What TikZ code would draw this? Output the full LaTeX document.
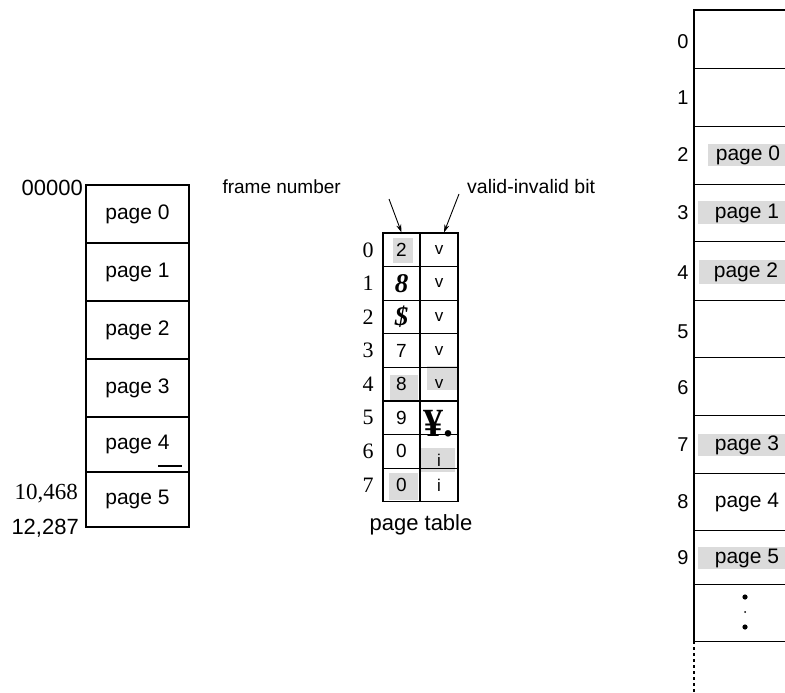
\documentclass[tikz,border=0pt]{standalone}
\usepackage{fontspec}
\setmainfont{Liberation Serif}
\setsansfont{Liberation Sans}
\usetikzlibrary{arrows.meta}
\newcommand\fz[1]{\fontsize{#1}{#1}\selectfont}
\begin{document}
\begin{tikzpicture}[x=1pt,y=-1pt,
  box/.style={draw, line width=1.2pt, inner sep=0pt, minimum width=103pt, font=\sffamily\fz{21}},
  shd/.style={fill=black!14},
  lbl/.style={inner sep=0pt, font=\sffamily\fz{21}},
  slbl/.style={inner sep=0pt, font=\rmfamily\fz{22}},
  ptc/.style={draw, line width=1.1pt, inner sep=0pt, minimum height=33.6pt},
  ptl/.style={ptc, minimum width=37pt, font=\sffamily\fz{19}},
  ptr/.style={ptc, minimum width=38pt, font=\sffamily\fz{17}},
  mcell/.style={inner sep=0pt, minimum width=91pt, anchor=north west},
  mline/.style={line width=1.2pt},
  arr/.style={-{Stealth[length=8pt,width=5pt]}, line width=0.9pt}
]
\useasboundingbox (0,0) rectangle (785,693);

% ---------- logical memory ----------
\node[box, minimum height=58pt] (p0) at (137.5,214) {page 0};
\node[box, minimum height=58pt] (p1) at (137.5,272) {page 1};
\node[box, minimum height=58pt] (p2) at (137.5,330) {page 2};
\node[box, minimum height=58pt] (p3) at (137.5,388) {page 3};
\node[box, minimum height=55pt] (p4) at (137.5,444.5) {page 4};
\node[box, minimum height=55pt] (p5) at (137.5,499.5) {page 5};
\draw[mline] (158,466) -- (182,466);
\node[lbl, anchor=east, font=\sffamily\fz{22}] (a0) at (83,188) {00000};
\node[slbl, anchor=east, font=\rmfamily\fz{23}] (a1) at (78,494) {10,468};
\node[lbl, anchor=east, font=\sffamily\fz{22}] (a2) at (79,528) {12,287};

% ---------- page table ----------
\fill[shd] (393,238) rectangle (413,263);
\fill[shd] (390,375) rectangle (418,402);
\fill[shd] (427,366) rectangle (457,390);
\fill[shd] (420,448) rectangle (455,472);
\fill[shd] (389,473) rectangle (418,500);

\node[ptl] (l0) at (401.5,249.8) {2};
\node[ptl, font=\rmfamily\bfseries\itshape\fz{27}] (l1) at (401.5,283.4) {8};
\node[ptl, font=\rmfamily\bfseries\itshape\fz{27}] (l2) at (401.5,317.0) {\$};
\node[ptl] (l3) at (401.5,350.6) {7};
\node[ptl] (l4) at (401.5,384.2) {8};
\node[ptl] (l5) at (401.5,417.8) {9};
\node[ptl] (l6) at (401.5,451.4) {0};
\node[ptl] (l7) at (401.5,485.0) {0};

\node[ptr] (r0) at (439,249.8) {v};
\node[ptr] (r1) at (439,283.4) {v};
\node[ptr] (r2) at (439,317.0) {v};
\node[ptr] (r3) at (439,350.6) {v};
\node[ptr] (r4) at (439,384.2) {v};
\node[ptr] (r5) at (439,417.8) {};
\node[ptr] (r6) at (439,451.4) {};
\node[inner sep=0pt, font=\sffamily\fz{17}] (i6) at (439,460) {i};
\node[ptr] (r7) at (439,485.0) {i};
\node[inner sep=0pt, font=\rmfamily\bfseries\fz{40}] (yen) at (438,424) {¥.};

\node[slbl] (n0) at (368,249.8) {0};
\node[slbl] (n1) at (368,283.4) {1};
\node[slbl] (n2) at (368,317.0) {2};
\node[slbl] (n3) at (368,350.6) {3};
\node[slbl] (n4) at (368,384.2) {4};
\node[slbl] (n5) at (368,417.8) {5};
\node[slbl] (n6) at (368,451.4) {6};
\node[slbl] (n7) at (368,485.0) {7};

\node[lbl, font=\sffamily\fz{22}] (ptt) at (421,525) {page table};

\node[lbl, anchor=east, font=\sffamily\fz{19}] (fn) at (341,187) {frame number};
\node[lbl, anchor=west, font=\sffamily\fz{19.5}] (vi) at (467,187) {valid-invalid bit};
\coordinate (fa) at (389,199);
\coordinate (va) at (459,194);
\draw[arr] (fa) -- (l0.north);
\draw[arr] (va) -- ([xshift=5pt]r0.north);

% ---------- physical memory ----------
\fill[shd] (708,144) rectangle (785,166);
\fill[shd] (698,201) rectangle (785,224);
\fill[shd] (699,260) rectangle (785,284);
\fill[shd] (698,434) rectangle (785,456);
\fill[shd] (698,547) rectangle (785,569);

\node[mcell, minimum height=58pt] (m0) at (694,10) {};
\node[mcell, minimum height=58pt] (m1) at (694,68) {};
\node[mcell, minimum height=58pt] (m2) at (694,126) {};
\node[mcell, minimum height=57pt] (m3) at (694,184) {};
\node[mcell, minimum height=59pt] (m4) at (694,241) {};
\node[mcell, minimum height=57pt] (m5) at (694,300) {};
\node[mcell, minimum height=58pt] (m6) at (694,357) {};
\node[mcell, minimum height=58pt] (m7) at (694,415) {};
\node[mcell, minimum height=57pt] (m8) at (694,473) {};
\node[mcell, minimum height=54pt] (m9) at (694,530) {};
\node[mcell, minimum height=57pt] (m10) at (694,584) {};
\coordinate (mend) at (694,693);

\draw[mline] (m0.north east) -- (m0.north west) -- (m10.south west);
\draw[mline, dashed] (m10.south west) -- (mend);
\foreach \k in {0,...,10} {\draw[mline] (m\k.south west) -- (m\k.south east);}

\node[lbl] (t2) at (748,155) {page 0};
\node[lbl] (t3) at (747,213) {page 1};
\node[lbl] (t4) at (746,272) {page 2};
\node[lbl] (t7) at (747,445) {page 3};
\node[lbl] (t8) at (747,502) {page 4};
\node[lbl] (t9) at (747,558) {page 5};

\node[lbl, font=\sffamily\fz{20}] (k0) at (683,42) {0};
\node[lbl, font=\sffamily\fz{20}] (k1) at (683,98) {1};
\node[lbl, font=\sffamily\fz{20}] (k2) at (683,155) {2};
\node[lbl, font=\sffamily\fz{20}] (k3) at (683,213) {3};
\node[lbl, font=\sffamily\fz{20}] (k4) at (683,273) {4};
\node[lbl, font=\sffamily\fz{20}] (k5) at (683,332) {5};
\node[lbl, font=\sffamily\fz{20}] (k6) at (683,388) {6};
\node[lbl, font=\sffamily\fz{20}] (k7) at (683,445) {7};
\node[lbl, font=\sffamily\fz{20}] (k8) at (683,502) {8};
\node[lbl, font=\sffamily\fz{20}] (k9) at (683,558) {9};

\fill (745,597) circle (2.6pt);
\fill (745,612) circle (1pt);
\fill (745,627) circle (2.6pt);
\end{tikzpicture}
\end{document}
